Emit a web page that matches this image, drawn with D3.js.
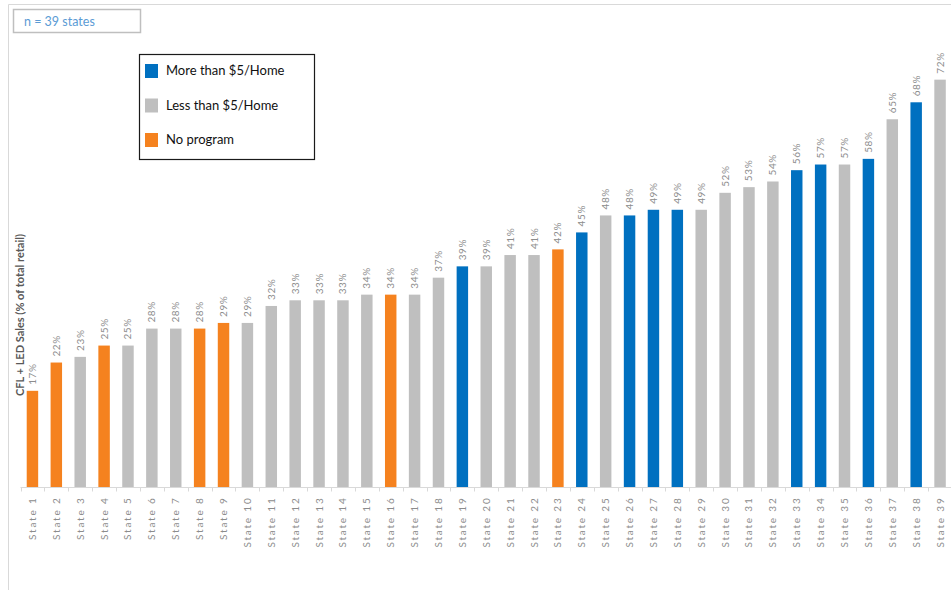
<!DOCTYPE html>
<html>
<head>
<meta charset="utf-8">
<script src="https://cdn.jsdelivr.net/npm/d3@7"></script>
<style>
  html, body { margin: 0; padding: 0; background: #fff; }
  svg { display: block; font-family: Lato, "Open Sans", sans-serif; }
</style>
</head>
<body>
<svg id="chart" width="951" height="590"></svg>
<script>
// CFL + LED share of retail lighting sales by state, grouped by program spending
const states = d3.range(1, 40).map(i => "State " + i);
const shares = [17, 22, 23, 25, 25, 28, 28, 28, 29, 29, 32, 33, 33, 33, 34, 34, 34, 37, 39, 39,
                41, 41, 42, 45, 48, 48, 49, 49, 49, 52, 53, 54, 56, 57, 57, 58, 65, 68, 72];
const groups = ["N", "N", "L", "N", "L", "L", "L", "N", "N", "L", "L", "L", "L", "L", "L", "N", "L", "L", "M", "L",
                "L", "L", "N", "M", "L", "M", "M", "M", "L", "L", "L", "L", "M", "M", "L", "M", "L", "M", "L"];
const groupKeys = ["M", "L", "N"];
const groupNames = ["More than $5/Home", "Less than $5/Home", "No program"];
const groupColors = ["#0070c0", "#bfbfbf", "#f5821f"];

const svg = d3.select("#chart");
const color = d3.scaleOrdinal().domain(groupKeys).range(groupColors);

// outer chart frame (top and left edges)
svg.append("path")
  .attr("d", "M8.5,590 V4.5 H951")
  .attr("fill", "none").attr("stroke", "#d9d9d9").attr("stroke-width", 1);

const x = d3.scaleBand().domain(states).range([20.5, 952]).paddingInner(0.52).paddingOuter(0.26);
const y = d3.scaleLinear().domain([0, 80]).range([487, 34.4]);

// bars
svg.append("g").selectAll("rect")
  .data(states)
  .join("rect")
  .attr("x", d => x(d))
  .attr("width", x.bandwidth())
  .attr("y", (d, i) => y(shares[i]))
  .attr("height", (d, i) => y(0) - y(shares[i]))
  .attr("fill", (d, i) => color(groups[i]));

// value labels above bars
svg.append("g").selectAll("text")
  .data(states)
  .join("text")
  .attr("transform", (d, i) => `translate(${x(d) + x.bandwidth() / 2 + 3.5},${y(shares[i]) - 6}) rotate(-90)`)
  .attr("text-anchor", "start")
  .attr("font-size", 10)
  .attr("fill", "#8c8c8c")
  .attr("letter-spacing", 0.6)
  .text((d, i) => shares[i] + "%");

// category axis
const xAxis = svg.append("g").attr("transform", `translate(0,${y(0) + 0.5})`);
xAxis.append("line")
  .attr("x1", 20.5).attr("x2", 951)
  .attr("stroke", "#d9d9d9");
xAxis.selectAll("line.tick")
  .data(d3.range(0, states.length))
  .join("line")
  .attr("class", "tick")
  .attr("x1", i => Math.round(x(states[i]) - x.step() * x.paddingInner() / 2) + 0.5)
  .attr("x2", i => Math.round(x(states[i]) - x.step() * x.paddingInner() / 2) + 0.5)
  .attr("y1", 0).attr("y2", 4)
  .attr("stroke", "#d9d9d9");
xAxis.selectAll("text")
  .data(states)
  .join("text")
  .attr("transform", d => `translate(${x(d) + x.bandwidth() / 2 + 3.5},9) rotate(-90)`)
  .attr("text-anchor", "end")
  .attr("font-size", 10)
  .attr("letter-spacing", 1.8)
  .attr("fill", "#8c8c8c")
  .text(d => d);

// value axis title
svg.append("text")
  .attr("transform", "translate(24,315) rotate(-90)")
  .attr("text-anchor", "middle")
  .attr("font-size", 11)
  .attr("font-weight", "bold")
  .attr("fill", "#595959")
  .text("CFL + LED Sales (% of total retail)");

// sample size note
svg.append("rect")
  .attr("x", 13.5).attr("y", 9.5).attr("width", 127).attr("height", 23)
  .attr("fill", "#fff").attr("stroke", "#bfbfbf").attr("stroke-width", 1.5);
svg.append("text")
  .attr("x", 24).attr("y", 26)
  .attr("font-size", 12.5)
  .attr("fill", "#5b9bd5")
  .text("n = 39 states");

// legend
const legend = svg.append("g");
legend.append("rect")
  .attr("x", 139.5).attr("y", 54.5).attr("width", 175).attr("height", 105)
  .attr("fill", "#fff").attr("stroke", "#1a1a1a").attr("stroke-width", 1.2);
const items = legend.selectAll("g.item")
  .data(groupKeys)
  .join("g")
  .attr("class", "item")
  .attr("transform", (d, i) => `translate(145,${64 + i * 34.5})`);
items.append("rect")
  .attr("width", 13).attr("height", 14)
  .attr("fill", d => color(d));
items.append("text")
  .attr("x", 21).attr("y", 11)
  .attr("font-size", 13)
  .attr("fill", "#111")
  .text((d, i) => groupNames[i]);
</script>
</body>
</html>
